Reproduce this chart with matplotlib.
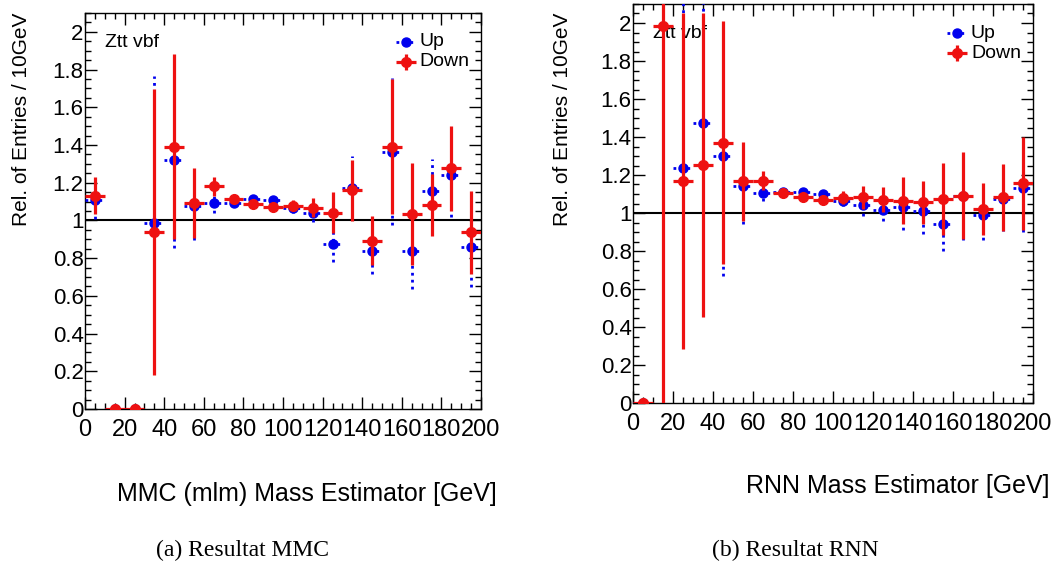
import numpy as np
import matplotlib
matplotlib.use("Agg")
import matplotlib.pyplot as plt
from matplotlib.ticker import MultipleLocator, FuncFormatter

# Bin centres (10 GeV bins)
bins = [5, 15, 25, 35, 45, 55, 65, 75, 85, 95,
        105, 115, 125, 135, 145, 155, 165, 175, 185, 195]

# MMC - Up / Down ratios and errors
mmc_up = [1.106, 0.0, 0.0, 0.986, 1.323, 1.076, 1.092, 1.095, 1.115, 1.106,
          1.067, 1.041, 0.873, 1.173, 0.838, 1.365, 0.838, 1.155, 1.243, 0.859]
mmc_up_err = [0.10, 0.0, 0.0, 0.78, 0.47, 0.18, 0.05, 0.02, 0.02, 0.02,
              0.03, 0.05, 0.095, 0.17, 0.12, 0.39, 0.20, 0.17, 0.225, 0.21]
mmc_down = [1.132, 0.0, 0.0, 0.938, 1.392, 1.092, 1.180, 1.111, 1.088, 1.070,
            1.079, 1.067, 1.042, 1.159, 0.891, 1.392, 1.035, 1.081, 1.277, 0.938]
mmc_down_err = [0.10, 0.0, 0.0, 0.76, 0.49, 0.185, 0.05, 0.02, 0.015, 0.015,
                0.03, 0.05, 0.11, 0.16, 0.13, 0.36, 0.27, 0.165, 0.225, 0.22]

# RNN - Up / Down ratios and errors (Up bin 15 is off the scale)
rnn_up = [0.0, np.nan, 1.235, 1.475, 1.298, 1.144, 1.103, 1.109, 1.112, 1.100,
          1.065, 1.044, 1.017, 1.033, 1.009, 0.942, 1.090, 0.989, 1.074, 1.130]
rnn_up_err = [0.0, np.nan, 0.90, 0.80, 0.63, 0.20, 0.04, 0.02, 0.015, 0.015,
              0.03, 0.058, 0.06, 0.12, 0.12, 0.14, 0.23, 0.13, 0.17, 0.23]
rnn_down = [0.0, 1.984, 1.170, 1.252, 1.371, 1.166, 1.170, 1.103, 1.082, 1.070,
            1.080, 1.082, 1.070, 1.065, 1.056, 1.074, 1.091, 1.021, 1.082, 1.156]
rnn_down_err = [0.0, 2.0, 0.885, 0.80, 0.64, 0.21, 0.05, 0.02, 0.015, 0.015,
                0.035, 0.06, 0.065, 0.125, 0.115, 0.19, 0.23, 0.135, 0.175, 0.245]

plt.rcParams['font.family'] = ['Liberation Sans', 'DejaVu Sans']

W, H = 1054, 567
BLUE = '#0000ee'
RED = '#ee1111'
DOTTED = (0, (1, 1.5))


def px(x, y):
    """pixel -> figure fraction"""
    return x / W, 1 - y / H


def draw_panel(ax, up, up_err, down, down_err):
    x = np.array(bins, dtype=float)
    # Up: blue, dotted errors
    eb = ax.errorbar(x, up, yerr=up_err, xerr=5, fmt='o', color=BLUE,
                     ms=6.5, elinewidth=2, capsize=0, zorder=3)
    for lc in eb[2]:
        lc.set_linestyle(DOTTED)
    # Down: red, solid errors
    ax.errorbar(x, down, yerr=down_err, xerr=5, fmt='o', color=RED,
                ms=7, elinewidth=2.3, capsize=0, zorder=4)
    ax.axhline(1.0, color='black', lw=1.5, zorder=2)

    ax.set_xlim(0, 200)
    ax.set_ylim(0, 2.1)
    ax.xaxis.set_major_locator(MultipleLocator(20))
    ax.xaxis.set_minor_locator(MultipleLocator(5))
    ax.yaxis.set_major_locator(MultipleLocator(0.2))
    ax.yaxis.set_minor_locator(MultipleLocator(0.05))
    ax.yaxis.set_major_formatter(FuncFormatter(lambda v, p: '%g' % round(v, 2)))
    ax.tick_params(which='both', direction='in', top=True, right=True, width=1.0)
    ax.tick_params(which='major', length=8.5)
    ax.tick_params(which='minor', length=4.5)
    ax.tick_params(axis='x', labelsize=17, pad=7)
    ax.tick_params(axis='y', labelsize=16, pad=1)
    for s in ax.spines.values():
        s.set_linewidth(1.0)

    ax.text(0.05, 0.925, 'Ztt vbf', transform=ax.transAxes, fontsize=14,
            va='center', ha='left')

    # legend (drawn by hand like ROOT TLegend)
    lx, ly = 0.81, 0.927
    leg_up = ax.errorbar([lx], [ly], xerr=0.025, fmt='o', color=BLUE, ms=6.5,
                         elinewidth=2, transform=ax.transAxes)
    leg_up[2][0].set_linestyle(DOTTED)
    ax.errorbar([lx], [ly - 0.05], xerr=0.025, yerr=0.02, fmt='o', color=RED,
                ms=7, elinewidth=2.3, transform=ax.transAxes)
    ax.text(lx + 0.035, ly, 'Up', transform=ax.transAxes, fontsize=14, va='center')
    ax.text(lx + 0.035, ly - 0.05, 'Down', transform=ax.transAxes, fontsize=14,
            va='center')


fig = plt.figure(figsize=(W / 100, H / 100), dpi=100)

x0, y1 = px(85, 409)
x1, y0 = px(481, 13)
ax1 = fig.add_axes([x0, y1, x1 - x0, y0 - y1])
draw_panel(ax1, mmc_up, mmc_up_err, mmc_down, mmc_down_err)

x0, y1 = px(633, 403)
x1, y0 = px(1033, 4)
ax2 = fig.add_axes([x0, y1, x1 - x0, y0 - y1])
draw_panel(ax2, rnn_up, rnn_up_err, rnn_down, rnn_down_err)

# axis titles (ROOT style: at the end of the axis)
fig.text(*px(22, 13), 'Rel. of Entries / 10GeV', rotation=90, fontsize=15,
         ha='center', va='top')
fig.text(*px(562, 13), 'Rel. of Entries / 10GeV', rotation=90, fontsize=15,
         ha='center', va='top')
fig.text(*px(497, 494), 'MMC (mlm) Mass Estimator [GeV]', fontsize=18,
         ha='right', va='center')
fig.text(*px(1050, 486), 'RNN Mass Estimator [GeV]', fontsize=18,
         ha='right', va='center')

# captions
fig.text(*px(243, 550), '(a) Resultat MMC', fontsize=17, ha='center',
         va='center', family='Liberation Serif')
fig.text(*px(795, 550), '(b) Resultat RNN', fontsize=17, ha='center',
         va='center', family='Liberation Serif')

fig.savefig('out.png', dpi=100)
